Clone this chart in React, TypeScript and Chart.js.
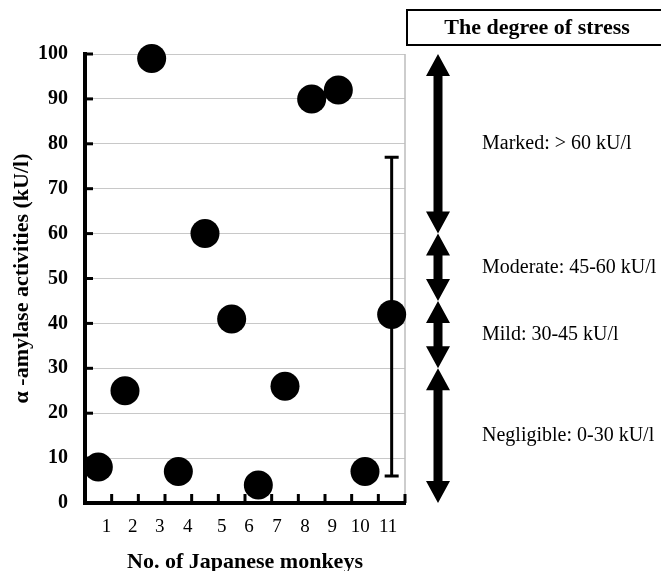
import React, { useEffect, useRef } from 'react';
import { Chart, registerables } from 'chart.js';

Chart.register(...registerables);

// ---- data ----
const monkeyLabels = ['1', '2', '3', '4', '5', '6', '7', '8', '9', '10', '11'];
const amylaseValues = [8, 25, 99, 7, 60, 41, 4, 26, 90, 92, 7];
const meanValue = [42];
const sdLow = [6];
const sdHigh = [77];
const yTickValues = [0, 10, 20, 30, 40, 50, 60, 70, 80, 90, 100];
const stressLabels = ['Marked: > 60 kU/l', 'Moderate: 45-60 kU/l', 'Mild: 30-45 kU/l', 'Negligible: 0-30 kU/l'];
const stressLower = [60, 45, 30, 0];
const stressUpper = [100, 60, 45, 30];
const stressTitle = 'The degree of stress';

// ---- layout (axis units where the reference places the x labels) ----
const xLabelAt = [0.81, 1.79, 2.8, 3.85, 5.13, 6.15, 7.2, 8.25, 9.27, 10.32, 11.37];

const SERIF = '"Liberation Serif", "DejaVu Serif", serif';

const overlayPlugin = {
  id: 'overlay',
  beforeDatasetsDraw(chart: any) {
    const { ctx, chartArea, scales } = chart;
    const x = scales.x;
    const y = scales.y;
    ctx.save();
    // right border of plot
    ctx.strokeStyle = '#bdbdbd';
    ctx.lineWidth = 1.5;
    ctx.beginPath();
    ctx.moveTo(chartArea.right, chartArea.top);
    ctx.lineTo(chartArea.right, chartArea.bottom);
    ctx.stroke();
    // inward ticks
    ctx.strokeStyle = '#000';
    ctx.lineWidth = 3;
    yTickValues.forEach((v) => {
      const py = y.getPixelForValue(v);
      ctx.beginPath();
      ctx.moveTo(chartArea.left, py);
      ctx.lineTo(chartArea.left + 8, py);
      ctx.stroke();
    });
    for (let i = 1; i <= amylaseValues.length + 1; i++) {
      const px = x.getPixelForValue(i);
      ctx.beginPath();
      ctx.moveTo(px, chartArea.bottom);
      ctx.lineTo(px, chartArea.bottom - 9);
      ctx.stroke();
    }
    // error bar
    const ex = x.getPixelForValue(amylaseValues.length + 0.5);
    const yLo = y.getPixelForValue(sdLow[0]);
    const yHi = y.getPixelForValue(sdHigh[0]);
    ctx.lineWidth = 3;
    ctx.beginPath();
    ctx.moveTo(ex, yLo);
    ctx.lineTo(ex, yHi);
    ctx.moveTo(ex - 7, yLo);
    ctx.lineTo(ex + 7, yLo);
    ctx.moveTo(ex - 7, yHi);
    ctx.lineTo(ex + 7, yHi);
    ctx.stroke();
    ctx.restore();
  },
  afterDraw(chart: any) {
    const { ctx, chartArea, scales } = chart;
    const y = scales.y;
    ctx.save();
    const ax = chartArea.right + 33;
    const headW = 12;
    const headH = 22;
    const shaft = 4.5;
    ctx.fillStyle = '#000';
    stressLabels.forEach((label, i) => {
      const top = y.getPixelForValue(stressUpper[i]);
      const bot = y.getPixelForValue(stressLower[i]);
      ctx.beginPath();
      ctx.moveTo(ax, top);
      ctx.lineTo(ax + headW, top + headH);
      ctx.lineTo(ax + shaft, top + headH);
      ctx.lineTo(ax + shaft, bot - headH);
      ctx.lineTo(ax + headW, bot - headH);
      ctx.lineTo(ax, bot);
      ctx.lineTo(ax - headW, bot - headH);
      ctx.lineTo(ax - shaft, bot - headH);
      ctx.lineTo(ax - shaft, top + headH);
      ctx.lineTo(ax - headW, top + headH);
      ctx.closePath();
      ctx.fill();
      const mid = y.getPixelForValue((stressUpper[i] + stressLower[i]) / 2);
      ctx.font = `20px ${SERIF}`;
      ctx.textAlign = 'left';
      ctx.textBaseline = 'middle';
      ctx.fillText(label, chartArea.right + 77, mid);
    });
    // title box
    const bx = chartArea.right + 2;
    ctx.lineWidth = 2;
    ctx.strokeStyle = '#000';
    ctx.strokeRect(bx, 10, chart.width - bx + 2, 35);
    ctx.font = `bold 22px ${SERIF}`;
    ctx.textAlign = 'center';
    ctx.textBaseline = 'middle';
    ctx.fillText(stressTitle, 537, 28);
    ctx.restore();
  },
};

export default function App() {
  const ref = useRef<HTMLCanvasElement>(null);
  useEffect(() => {
    if (!ref.current) return;
    const pts = amylaseValues.map((v, i) => ({ x: i + 0.5, y: v }));
    const chart = new Chart(ref.current, {
      type: 'scatter',
      data: {
        datasets: [
          {
            data: pts,
            pointRadius: 14.5,
            pointHoverRadius: 14.5,
            backgroundColor: '#000',
            borderColor: '#000',
            borderWidth: 0,
          },
          {
            data: [{ x: amylaseValues.length + 0.5, y: meanValue[0] }],
            pointRadius: 14.5,
            pointHoverRadius: 14.5,
            backgroundColor: '#000',
            borderColor: '#000',
            borderWidth: 0,
          },
        ],
      },
      options: {
        animation: false,
        responsive: false,
        maintainAspectRatio: false,
        devicePixelRatio: 1,
        clip: false as any,
        layout: { padding: { top: 54, right: 256, left: 0, bottom: 0 } },
        plugins: { legend: { display: false }, tooltip: { enabled: false } },
        scales: {
          x: {
            type: 'linear',
            min: 0,
            max: 12,
            afterBuildTicks: (s: any) => {
              s.ticks = xLabelAt.map((v) => ({ value: v }));
            },
            afterFit: (s: any) => {
              s.height = 68;
            },
            ticks: {
              callback: (_v: any, i: number) => monkeyLabels[i],
              autoSkip: false,
              maxRotation: 0,
              color: '#000',
              padding: 13,
              font: { family: SERIF, size: 19 },
            },
            grid: { display: false, drawTicks: false },
            border: { display: true, color: '#000', width: 4 },
            title: {
              display: true,
              text: 'No. of Japanese monkeys',
              color: '#000',
              font: { family: SERIF, size: 22, weight: 'bold', lineHeight: 0.8 },
              padding: { top: 0, bottom: 0 },
            },
          },
          y: {
            type: 'linear',
            min: 0,
            max: 100,
            afterFit: (s: any) => {
              s.width = 85;
            },
            ticks: {
              stepSize: 10,
              color: '#000',
              padding: 17,
              font: { family: SERIF, size: 20, weight: 'bold' },
            },
            grid: { color: '#c8c8c8', lineWidth: 1, drawTicks: false },
            border: { display: true, color: '#000', width: 4 },
            title: {
              display: true,
              text: 'α -amylase activities (kU/l)',
              color: '#000',
              font: { family: SERIF, size: 22, weight: 'bold', lineHeight: 1.2 },
              padding: { top: 9, bottom: 0 },
            },
          },
        },
      },
      plugins: [overlayPlugin],
    });
    return () => chart.destroy();
  }, []);
  return (
    <div style={{ position: 'fixed', left: 0, top: 0, width: 661, height: 571, background: '#fff' }}>
      <canvas ref={ref} width={661} height={571} />
    </div>
  );
}
